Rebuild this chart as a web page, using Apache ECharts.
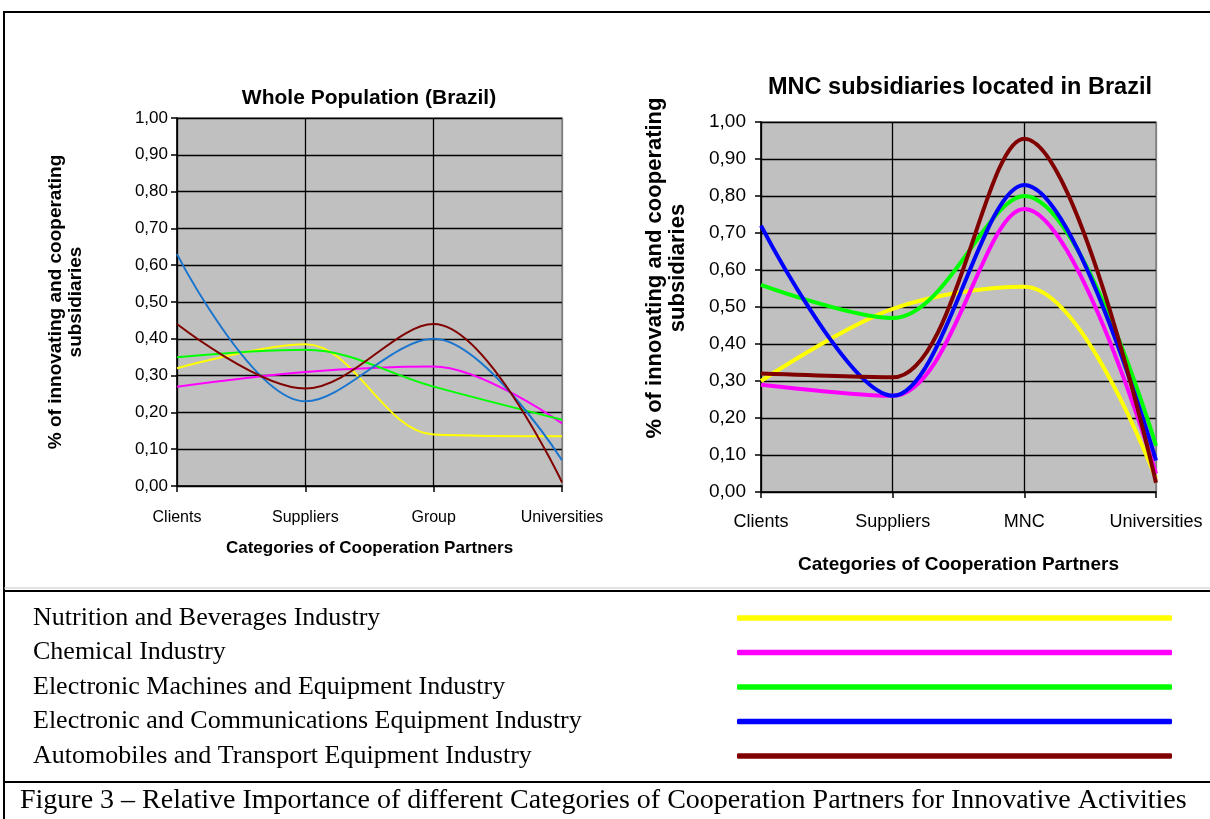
<!DOCTYPE html>
<html>
<head>
<meta charset="utf-8">
<script src="https://cdn.jsdelivr.net/npm/echarts@6/dist/echarts.min.js"></script>
<style>
html,body{margin:0;padding:0;background:#fff;}
#chart{width:1210px;height:819px;}
</style>
</head>
<body>
<div id="chart"></div>
<script>
// ---- data ----
const categoriesWhole = ['Clients', 'Suppliers', 'Group', 'Universities'];
const categoriesMNC = ['Clients', 'Suppliers', 'MNC', 'Universities'];
const seriesNames = [
  'Nutrition and Beverages Industry',
  'Chemical Industry',
  'Electronic Machines and Equipment Industry',
  'Electronic and Communications Equipment Industry',
  'Automobiles and Transport Equipment Industry'
];
const yTickLabels = ['0,00','0,10','0,20','0,30','0,40','0,50','0,60','0,70','0,80','0,90','1,00'];

// Whole Population (Brazil)
const wholeNutrition = [0.32, 0.385, 0.14, 0.135];
const wholeChemical  = [0.27, 0.31, 0.325, 0.17];
const wholeElecMach  = [0.35, 0.37, 0.27, 0.18];
const wholeElecComm  = [0.63, 0.23, 0.40, 0.07];
const wholeAuto      = [0.44, 0.265, 0.44, 0.01];

// MNC subsidiaries located in Brazil
const mncNutrition = [0.30, 0.495, 0.555, 0.035];
const mncChemical  = [0.29, 0.26, 0.765, 0.05];
const mncElecMach  = [0.56, 0.47, 0.80, 0.125];
const mncElecComm  = [0.72, 0.26, 0.83, 0.085];
const mncAuto      = [0.32, 0.31, 0.955, 0.025];

// ---- styling ----
const colorsWhole = ['#FFFF00', '#FF00FF', '#00FF00', '#1A75CF', '#800000'];
const colorsMNC   = ['#FFFF00', '#FF00FF', '#00FF00', '#0000FF', '#800000'];
const SANS = 'Liberation Sans, Arial, sans-serif';
const SERIF = 'Liberation Serif, Times New Roman, serif';

const wholeData = [wholeNutrition, wholeChemical, wholeElecMach, wholeElecComm, wholeAuto];
const mncData = [mncNutrition, mncChemical, mncElecMach, mncElecComm, mncAuto];

function xAxisCfg(gridIndex, cats, fs, margin, nameFs, nameGap) {
  return {
    type: 'category', gridIndex, data: cats, boundaryGap: false,
    axisLine: { show: true, lineStyle: { color: '#000', width: 1.5 } },
    axisTick: { show: true, length: 6, inside: false, lineStyle: { color: '#000', width: 1.5 } },
    axisLabel: { color: '#000', fontFamily: SANS, fontSize: fs, margin: margin },
    splitLine: { show: true, lineStyle: { color: ['#000', '#000', '#000', '#808080'], width: 1.3 } },
    name: 'Categories of Cooperation Partners',
    nameLocation: 'middle', nameGap: nameGap,
    nameTextStyle: { color: '#000', fontFamily: SANS, fontWeight: 'bold', fontSize: nameFs }
  };
}
function yAxisCfg(gridIndex, fs, margin, nameFs, nameGap, pad) {
  return {
    type: 'value', gridIndex, min: 0, max: 1, interval: 0.1,
    axisLine: { show: true, lineStyle: { color: '#000', width: 1.5 } },
    axisTick: { show: true, length: 6, lineStyle: { color: '#000', width: 1.5 } },
    axisLabel: { color: '#000', fontFamily: SANS, fontSize: fs, margin: margin,
      formatter: (v) => yTickLabels[Math.round(v * 10)] },
    splitLine: { show: true, lineStyle: { color: '#000', width: 1.3 } },
    name: '% of innovating and cooperating\nsubsidiaries',
    nameLocation: 'middle', nameRotate: 90, nameGap: nameGap,
    nameTextStyle: { color: '#000', fontFamily: SANS, fontWeight: 'bold', fontSize: nameFs,
      lineHeight: nameFs + 1, align: 'center', padding: pad }
  };
}

const series = [];
seriesNames.forEach((n, i) => {
  series.push({
    name: n, type: 'line', xAxisIndex: 0, yAxisIndex: 0, data: wholeData[i],
    smooth: 0.35, showSymbol: false, symbol: 'none',
    lineStyle: { color: colorsWhole[i], width: 2 }, itemStyle: { color: colorsWhole[i] },
    emphasis: { disabled: true }
  });
});
seriesNames.forEach((n, i) => {
  series.push({
    name: n, type: 'line', xAxisIndex: 1, yAxisIndex: 1, data: mncData[i],
    smooth: 0.35, showSymbol: false, symbol: 'none',
    lineStyle: { color: colorsMNC[i], width: 4 }, itemStyle: { color: colorsMNC[i] },
    emphasis: { disabled: true }
  });
});

const chart = echarts.init(document.getElementById('chart'), null, { renderer: 'canvas' });
chart.setOption({
  animation: false,
  backgroundColor: '#fff',
  grid: [
    { left: 177, top: 118, width: 385, height: 368, show: true, backgroundColor: '#C0C0C0',
      borderColor: '#808080', borderWidth: 1.5, containLabel: false, outerBoundsMode: 'none' },
    { left: 761, top: 122, width: 395, height: 370, show: true, backgroundColor: '#C0C0C0',
      borderColor: '#808080', borderWidth: 1.5, containLabel: false, outerBoundsMode: 'none' }
  ],
  xAxis: [
    xAxisCfg(0, categoriesWhole, 16, 24, 17, 54),
    xAxisCfg(1, categoriesMNC, 18, 21, 19, 63)
  ],
  yAxis: [
    yAxisCfg(0, 17, 9, 19, 91, [0, 0, 0, 0]),
    yAxisCfg(1, 19, 15, 22, 72, [0, 0, 0, 78])
  ],
  legend: {
    orient: 'vertical', left: 33, top: 605, padding: 0, itemGap: 8.5,
    align: 'right', itemWidth: 435, itemHeight: 5.5, icon: 'roundRect',
    selectedMode: false,
    formatter: (name) => '{t|' + name + '}',
    textStyle: {
      color: '#000', fontFamily: SERIF, fontSize: 26,
      rich: { t: { width: 699, align: 'left', fontFamily: SERIF, fontSize: 26, color: '#000', lineHeight: 26 } }
    },
    data: seriesNames.map((n, i) => ({ name: n, itemStyle: { color: colorsMNC[i] } }))
  },
  graphic: [
    { type: 'text', x: 369, y: 98, style: { text: 'Whole Population (Brazil)', fontFamily: SANS,
      fontWeight: 'bold', fontSize: 21, fill: '#000', align: 'center', verticalAlign: 'middle' } },
    { type: 'text', x: 960, y: 88, style: { text: 'MNC subsidiaries located in Brazil', fontFamily: SANS,
      fontWeight: 'bold', fontSize: 23.5, fill: '#000', align: 'center', verticalAlign: 'middle' } },
    { type: 'text', x: 20, y: 801, style: { text: 'Figure 3 \u2013 Relative Importance of different Categories of Cooperation Partners for Innovative Activities',
      fontFamily: SERIF, fontSize: 28, fill: '#000', align: 'left', verticalAlign: 'middle' } },
    // borders
    { type: 'line', shape: { x1: 3, y1: 12, x2: 1210, y2: 12 }, style: { stroke: '#000', lineWidth: 2 }, z: 100 },
    { type: 'line', shape: { x1: 4, y1: 11, x2: 4, y2: 819 }, style: { stroke: '#000', lineWidth: 2 }, z: 100 },
    { type: 'line', shape: { x1: 4, y1: 588, x2: 1210, y2: 588 }, style: { stroke: '#c8c8c8', lineWidth: 1 }, z: 100 },
    { type: 'line', shape: { x1: 3, y1: 591, x2: 1210, y2: 591 }, style: { stroke: '#000', lineWidth: 2 }, z: 100 },
    { type: 'line', shape: { x1: 3, y1: 782, x2: 1210, y2: 782 }, style: { stroke: '#000', lineWidth: 2 }, z: 100 }
  ],
  series: series
});
</script>
</body>
</html>
